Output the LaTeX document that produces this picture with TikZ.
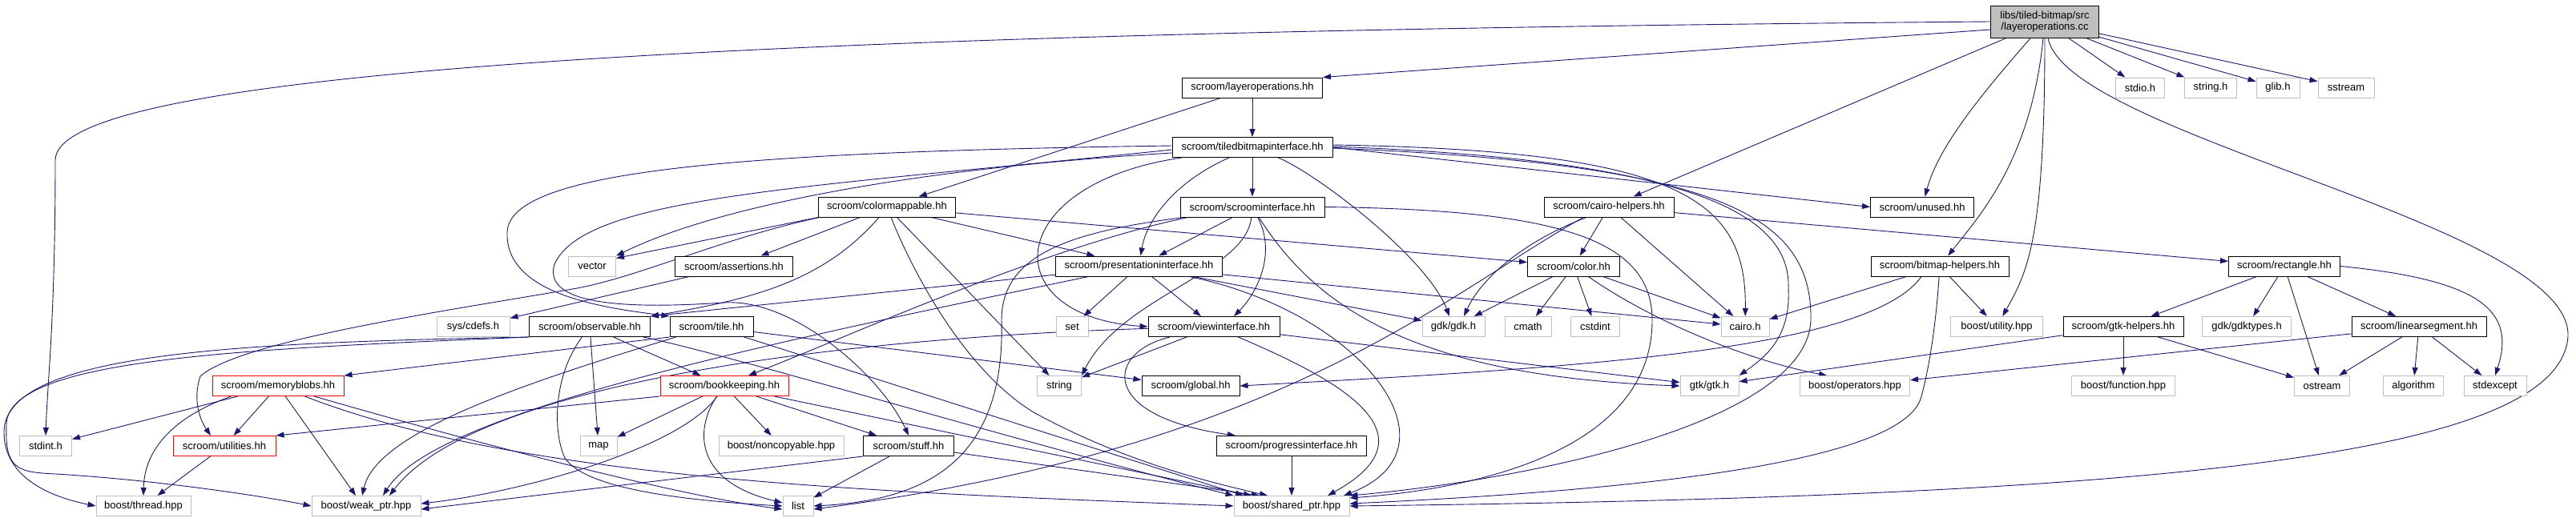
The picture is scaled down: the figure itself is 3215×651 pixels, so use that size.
\documentclass[tikz,border=0pt]{standalone}
\usepackage{fontspec}
\setmainfont{Liberation Sans}
\definecolor{doxyEdge}{HTML}{191970}
\definecolor{doxyGrey}{HTML}{BFBFBF}
\definecolor{doxyRed}{HTML}{FF0000}
\usetikzlibrary{arrows.meta, backgrounds}

\begin{document}
\begin{tikzpicture}[
    x=1pt, y=-1pt,
    incbox/.style={draw=black, fill=white, line width=1pt, minimum height=25pt,
      inner sep=0pt, align=center, font=\fontsize{13}{14.5}\selectfont},
    sysinc/.style={incbox, draw=doxyGrey},
    partial/.style={incbox, draw=doxyRed},
    mainfile/.style={incbox, fill=doxyGrey, minimum height=40pt},
    arr/.style={-{Triangle[length=10pt, width=7pt]}, doxyEdge, line width=0.9pt},
  ]
  \useasboundingbox (0,0) rectangle (3215,651);

  \node[mainfile, minimum width=135pt] (root) at (2552,27) {libs/tiled-bitmap/src\\/layeroperations.cc};

  \node[incbox, minimum width=175pt] (loh) at (1563,109.5) {scroom/layeroperations.hh};
  \node[sysinc, minimum width=61pt] (stdio) at (2671,109.5) {stdio.h};
  \node[sysinc, minimum width=65pt] (stringh) at (2759,109.5) {string.h};
  \node[sysinc, minimum width=54pt] (glib) at (2843,109.5) {glib.h};
  \node[sysinc, minimum width=70pt] (sstream) at (2928,109.5) {sstream};

  \node[incbox, minimum width=200pt] (tbi) at (1563,184) {scroom/tiledbitmapinterface.hh};

  \node[incbox, minimum width=171pt] (cmap) at (1107,258.5) {scroom/colormappable.hh};
  \node[incbox, minimum width=180pt] (sif) at (1563,258.5) {scroom/scroominterface.hh};
  \node[incbox, minimum width=162pt] (cairohlp) at (2008,258.5) {scroom/cairo-helpers.hh};
  \node[incbox, minimum width=129pt] (unused) at (2399,258.5) {scroom/unused.hh};

  \node[sysinc, minimum width=59pt] (vector) at (739,332.5) {vector};
  \node[incbox, minimum width=147pt] (assert) at (916,332.5) {scroom/assertions.hh};
  \node[incbox, minimum width=208pt] (presint) at (1421.5,332.5) {scroom/presentationinterface.hh};
  \node[incbox, minimum width=115pt] (color) at (1964,332.5) {scroom/color.hh};
  \node[incbox, minimum width=172pt] (bmphlp) at (2421,332.5) {scroom/bitmap-helpers.hh};
  \node[incbox, minimum width=139pt] (rect) at (2851,332.5) {scroom/rectangle.hh};

  \node[sysinc, minimum width=91pt] (cdefs) at (590.5,408) {sys/cdefs.h};
  \node[incbox, minimum width=151pt] (observ) at (736,408) {scroom/observable.hh};
  \node[incbox, minimum width=104pt] (tile) at (888,408) {scroom/tile.hh};
  \node[sysinc, minimum width=40pt] (set) at (1338,408) {set};
  \node[incbox, minimum width=164pt] (viewint) at (1515,408) {scroom/viewinterface.hh};
  \node[sysinc, minimum width=78pt] (gdkh) at (1814,408) {gdk/gdk.h};
  \node[sysinc, minimum width=58pt] (cmath) at (1907,408) {cmath};
  \node[sysinc, minimum width=61pt] (cstdint) at (1991,408) {cstdint};
  \node[sysinc, minimum width=60pt] (cairoh) at (2178,408) {cairo.h};
  \node[sysinc, minimum width=115pt] (butil) at (2492,408) {boost/utility.hpp};
  \node[incbox, minimum width=150pt] (gtkhlp) at (2650,408) {scroom/gtk-helpers.hh};
  \node[sysinc, minimum width=111pt] (gdktypes) at (2804,408) {gdk/gdktypes.h};
  \node[incbox, minimum width=168pt] (linseg) at (3019,408) {scroom/linearsegment.hh};

  \node[partial, minimum width=164pt] (memblob) at (347,482) {scroom/memoryblobs.hh};
  \node[partial, minimum width=160pt] (bookkp) at (904,482) {scroom/bookkeeping.hh};
  \node[sysinc, minimum width=55pt] (string) at (1322,482) {string};
  \node[incbox, minimum width=122pt] (global) at (1486,482) {scroom/global.hh};
  \node[sysinc, minimum width=73pt] (gtkh) at (2133.5,482) {gtk/gtk.h};
  \node[sysinc, minimum width=137pt] (operators) at (2315,482) {boost/operators.hpp};
  \node[sysinc, minimum width=129pt] (function) at (2650,482) {boost/function.hpp};
  \node[sysinc, minimum width=69pt] (ostream) at (2898,482) {ostream};
  \node[sysinc, minimum width=75pt] (algorithm) at (3012,482) {algorithm};
  \node[sysinc, minimum width=78pt] (stdexcept) at (3114,482) {stdexcept};

  \node[sysinc, minimum width=65pt] (stdint) at (57,557) {stdint.h};
  \node[partial, minimum width=128pt] (util) at (280,557) {scroom/utilities.hh};
  \node[sysinc, minimum width=46pt] (map) at (747,557) {map};
  \node[sysinc, minimum width=156pt] (noncopy) at (975,557) {boost/noncopyable.hpp};
  \node[incbox, minimum width=113pt] (stuff) at (1134,557) {scroom/stuff.hh};
  \node[incbox, minimum width=187pt] (progress) at (1612,557) {scroom/progressinterface.hh};

  \node[sysinc, minimum width=118pt] (thread) at (179,632) {boost/thread.hpp};
  \node[sysinc, minimum width=136pt] (weakptr) at (457,632) {boost/weak\_ptr.hpp};
  \node[sysinc, minimum width=38pt] (list) at (996,632) {list};
  \node[sysinc, minimum width=144pt] (sharedptr) at (1612,632) {boost/shared\_ptr.hpp};

  \begin{pgfonlayer}{background}
  \draw[arr] (root.west) .. controls (900,40) and (69,90) .. (69,200) .. controls (69,400) and (59,480) .. (stdint.north);
  \draw[arr] ([yshift=-10pt]root.west) -- (loh.north east);
  \draw[arr] (root) -- (cairohlp);
  \draw[arr] (root) .. controls (2480,110) and (2420,180) .. (unused);
  \draw[arr] (root) .. controls (2535,200) and (2470,270) .. (bmphlp);
  \draw[arr] (root) .. controls (2552,300) and (2530,340) .. (butil);
  \draw[arr] (root) -- (stdio);
  \draw[arr] (root) -- (stringh);
  \draw[arr] (root) -- (glib);
  \draw[arr] (root) -- (sstream);
  \draw[arr] (root) .. controls (2580,170) and (3210,280) .. (3205,420) .. controls (3195,570) and (2700,620) .. (sharedptr.east);

  \draw[arr] (loh) -- (tbi);
  \draw[arr] (loh) -- (cmap);

  \draw[arr] ([yshift=-7pt]tbi.west) .. controls (1150,210) and (900,255) .. (vector.north east);
  \draw[arr] ([yshift=2pt]tbi.west) .. controls (900,190) and (636,215) .. (633,290) .. controls (630,370) and (760,385) .. (tile.north west);
  \draw[arr] ([yshift=-3pt]tbi.west) .. controls (1000,235) and (730,245) .. (692,330) .. controls (675,385) and (800,385) .. (903,378) .. controls (990,372) and (1100,470) .. (stuff.north);
  \draw[arr] (tbi) .. controls (1460,230) and (1430,280) .. (presint);
  \draw[arr] (tbi) -- (sif);
  \draw[arr] (tbi) .. controls (1250,230) and (1240,395) .. (viewint.west);
  \draw[arr] (tbi) .. controls (1640,215) and (1780,320) .. (gdkh);
  \draw[arr] (tbi.east) -- (unused.west);
  \draw[arr] ([yshift=3pt]tbi.east) .. controls (2100,188) and (2180,250) .. (cairoh);
  \draw[arr] ([yshift=1pt]tbi.east) .. controls (2120,200) and (2235,270) .. (2232,360) .. controls (2235,420) and (2205,445) .. (gtkh.north east);
  \draw[arr] ([yshift=-1pt]tbi.east) .. controls (2150,205) and (2262,270) .. (2260,400) .. controls (2255,530) and (1900,600) .. (sharedptr.north east);

  \draw[arr] (cmap.south west) -- ([yshift=-3pt]vector.north east);
  \draw[arr] ([xshift=2pt]cmap.south west) .. controls (900,298) and (800,345) .. (720,360) .. controls (560,388) and (300,425) .. (250,470) .. controls (240,500) and (250,525) .. ([xshift=-17pt]util.north);
  \draw[arr] (cmap) -- (assert);
  \draw[arr] ([xshift=-10pt]cmap.south) .. controls (1025,355) and (930,375) .. (observ.north east);
  \draw[arr] (cmap) -- (string);
  \draw[arr] (cmap) .. controls (1135,330) and (1200,460) .. (1290,515) .. controls (1400,575) and (1500,600) .. ([xshift=-30pt]sharedptr.north);
  \draw[arr] (cmap) -- (presint);
  \draw[arr] (cmap) -- (color);

  \draw[arr] ([xshift=10pt]sif.south west) .. controls (1300,310) and (1060,420) .. ([xshift=30pt]bookkp.north);
  \draw[arr] ([xshift=5pt]sif.south west) .. controls (1330,290) and (1250,320) .. (1250,400) .. controls (1255,580) and (1150,625) .. (list.east);
  \draw[arr] (sif) -- (presint);
  \draw[arr] (sif) .. controls (1555,340) and (1400,370) .. (string.north east);
  \draw[arr] (sif) .. controls (1595,320) and (1565,370) .. ([xshift=25pt]viewint.north);
  \draw[arr] (sif) .. controls (1640,380) and (1760,470) .. (gtkh.west);
  \draw[arr] (sif.east) .. controls (1950,262) and (2062,300) .. (2062,400) .. controls (2062,560) and (1850,610) .. ([yshift=-3pt]sharedptr.north east);

  \draw[arr] (presint) -- (observ.north east);
  \draw[arr] (presint) .. controls (900,440) and (540,520) .. ([xshift=21pt]weakptr.north);
  \draw[arr] (presint) -- (set);
  \draw[arr] (presint) -- (viewint);
  \draw[arr] (presint) -- (gdkh);
  \draw[arr] (presint) -- (cairoh);
  \draw[arr] (presint) .. controls (1700,390) and (1830,560) .. ([xshift=65pt]sharedptr.north);

  \draw[arr] (viewint) .. controls (1100,420) and (600,470) .. ([xshift=29pt]weakptr.north);
  \draw[arr] (viewint) -- (string);
  \draw[arr] (viewint) .. controls (1380,440) and (1370,520) .. ([xshift=-70pt]progress.north);
  \draw[arr] (viewint) .. controls (1660,470) and (1800,540) .. ([xshift=45pt]sharedptr.north);
  \draw[arr] (viewint) -- (gtkh);

  \draw[arr] (tile.south west) -- (memblob.north east);
  \draw[arr] ([xshift=8pt]tile.south west) .. controls (650,480) and (470,540) .. ([xshift=-5pt]weakptr.north);
  \draw[arr] (tile) -- (global);
  \draw[arr] (tile) -- ([xshift=-60pt]sharedptr.north);

  \draw[arr] (observ.south west) .. controls (300,428) and (5,440) .. (5,540) .. controls (5,595) and (60,620) .. (thread.west);
  \draw[arr] (observ.south west) .. controls (300,436) and (10,448) .. (8,530) .. controls (6,585) and (20,590) .. (70,592) .. controls (200,600) and (330,620) .. (weakptr.west);
  \draw[arr] (observ) .. controls (690,470) and (690,540) .. (705,572) .. controls (730,610) and (850,625) .. (list.west);
  \draw[arr] (observ) -- (map);
  \draw[arr] (observ) -- (bookkp);
  \draw[arr] (observ) .. controls (900,440) and (1300,560) .. (sharedptr.north west);

  \draw[arr] (bookkp.south west) -- (util.north east);
  \draw[arr] (bookkp) -- (map);
  \draw[arr] (bookkp) .. controls (870,530) and (860,600) .. ([yshift=4pt]list.west);
  \draw[arr] (bookkp) -- (noncopy);
  \draw[arr] (bookkp) -- (stuff);
  \draw[arr] (bookkp) -- ([xshift=-50pt]sharedptr.north);
  \draw[arr] (bookkp) .. controls (850,560) and (650,615) .. ([yshift=3pt]weakptr.east);

  \draw[arr] (stuff.south west) -- ([yshift=-4pt]weakptr.east);
  \draw[arr] (stuff) -- (list);
  \draw[arr] (stuff) -- ([xshift=-40pt]sharedptr.north);

  \draw[arr] (memblob) -- (stdint);
  \draw[arr] ([xshift=24pt]memblob.south west) .. controls (205,525) and (180,570) .. (thread.north);
  \draw[arr] (memblob) -- (util);
  \draw[arr] (memblob) -- ([xshift=-13pt]weakptr.north);
  \draw[arr] (memblob) .. controls (600,555) and (850,620) .. ([yshift=-4pt]list.west);
  \draw[arr] (memblob) .. controls (650,600) and (1100,615) .. (sharedptr.west);

  \draw[arr] (util) -- (thread);
  \draw[arr] (assert) -- (cdefs);

  \draw[arr] (cairohlp) -- (color);
  \draw[arr] (cairohlp) -- (cairoh);
  \draw[arr] (cairohlp) -- (rect);
  \draw[arr] ([xshift=-28pt]cairohlp.south) .. controls (1905,300) and (1850,345) .. ([xshift=13pt]gdkh.north);
  \draw[arr] ([xshift=-32pt]cairohlp.south) .. controls (1800,370) and (1600,560) .. ([yshift=-4pt]list.east);

  \draw[arr] (color) -- (gdkh);
  \draw[arr] (color) -- (cmath);
  \draw[arr] (color) -- (cstdint);
  \draw[arr] (color) -- (cairoh);
  \draw[arr] (color) .. controls (2060,400) and (2180,450) .. ([xshift=-35pt]operators.north);

  \draw[arr] (bmphlp) -- (butil);
  \draw[arr] (bmphlp) -- (cairoh);
  \draw[arr] ([xshift=-23pt]bmphlp.south) .. controls (2330,440) and (1950,460) .. (global.east);
  \draw[arr] (bmphlp) .. controls (2415,420) and (2405,470) .. (2398,495) .. controls (2380,570) and (2100,610) .. ([yshift=3pt]sharedptr.east);

  \draw[arr] (rect) -- (gtkhlp);
  \draw[arr] (rect) -- (gdktypes);
  \draw[arr] (rect) -- (ostream);
  \draw[arr] (rect) -- (linseg);
  \draw[arr] (rect.east) .. controls (3100,350) and (3140,390) .. (stdexcept.north);

  \draw[arr] (gtkhlp) -- (gtkh);
  \draw[arr] (gtkhlp) -- (function);
  \draw[arr] (gtkhlp) -- (ostream);

  \draw[arr] (linseg) -- (operators);
  \draw[arr] (linseg) -- (ostream);
  \draw[arr] (linseg) -- (algorithm);
  \draw[arr] (linseg) -- (stdexcept);

  \draw[arr] (progress) -- (sharedptr);
  \end{pgfonlayer}
\end{tikzpicture}
\end{document}
